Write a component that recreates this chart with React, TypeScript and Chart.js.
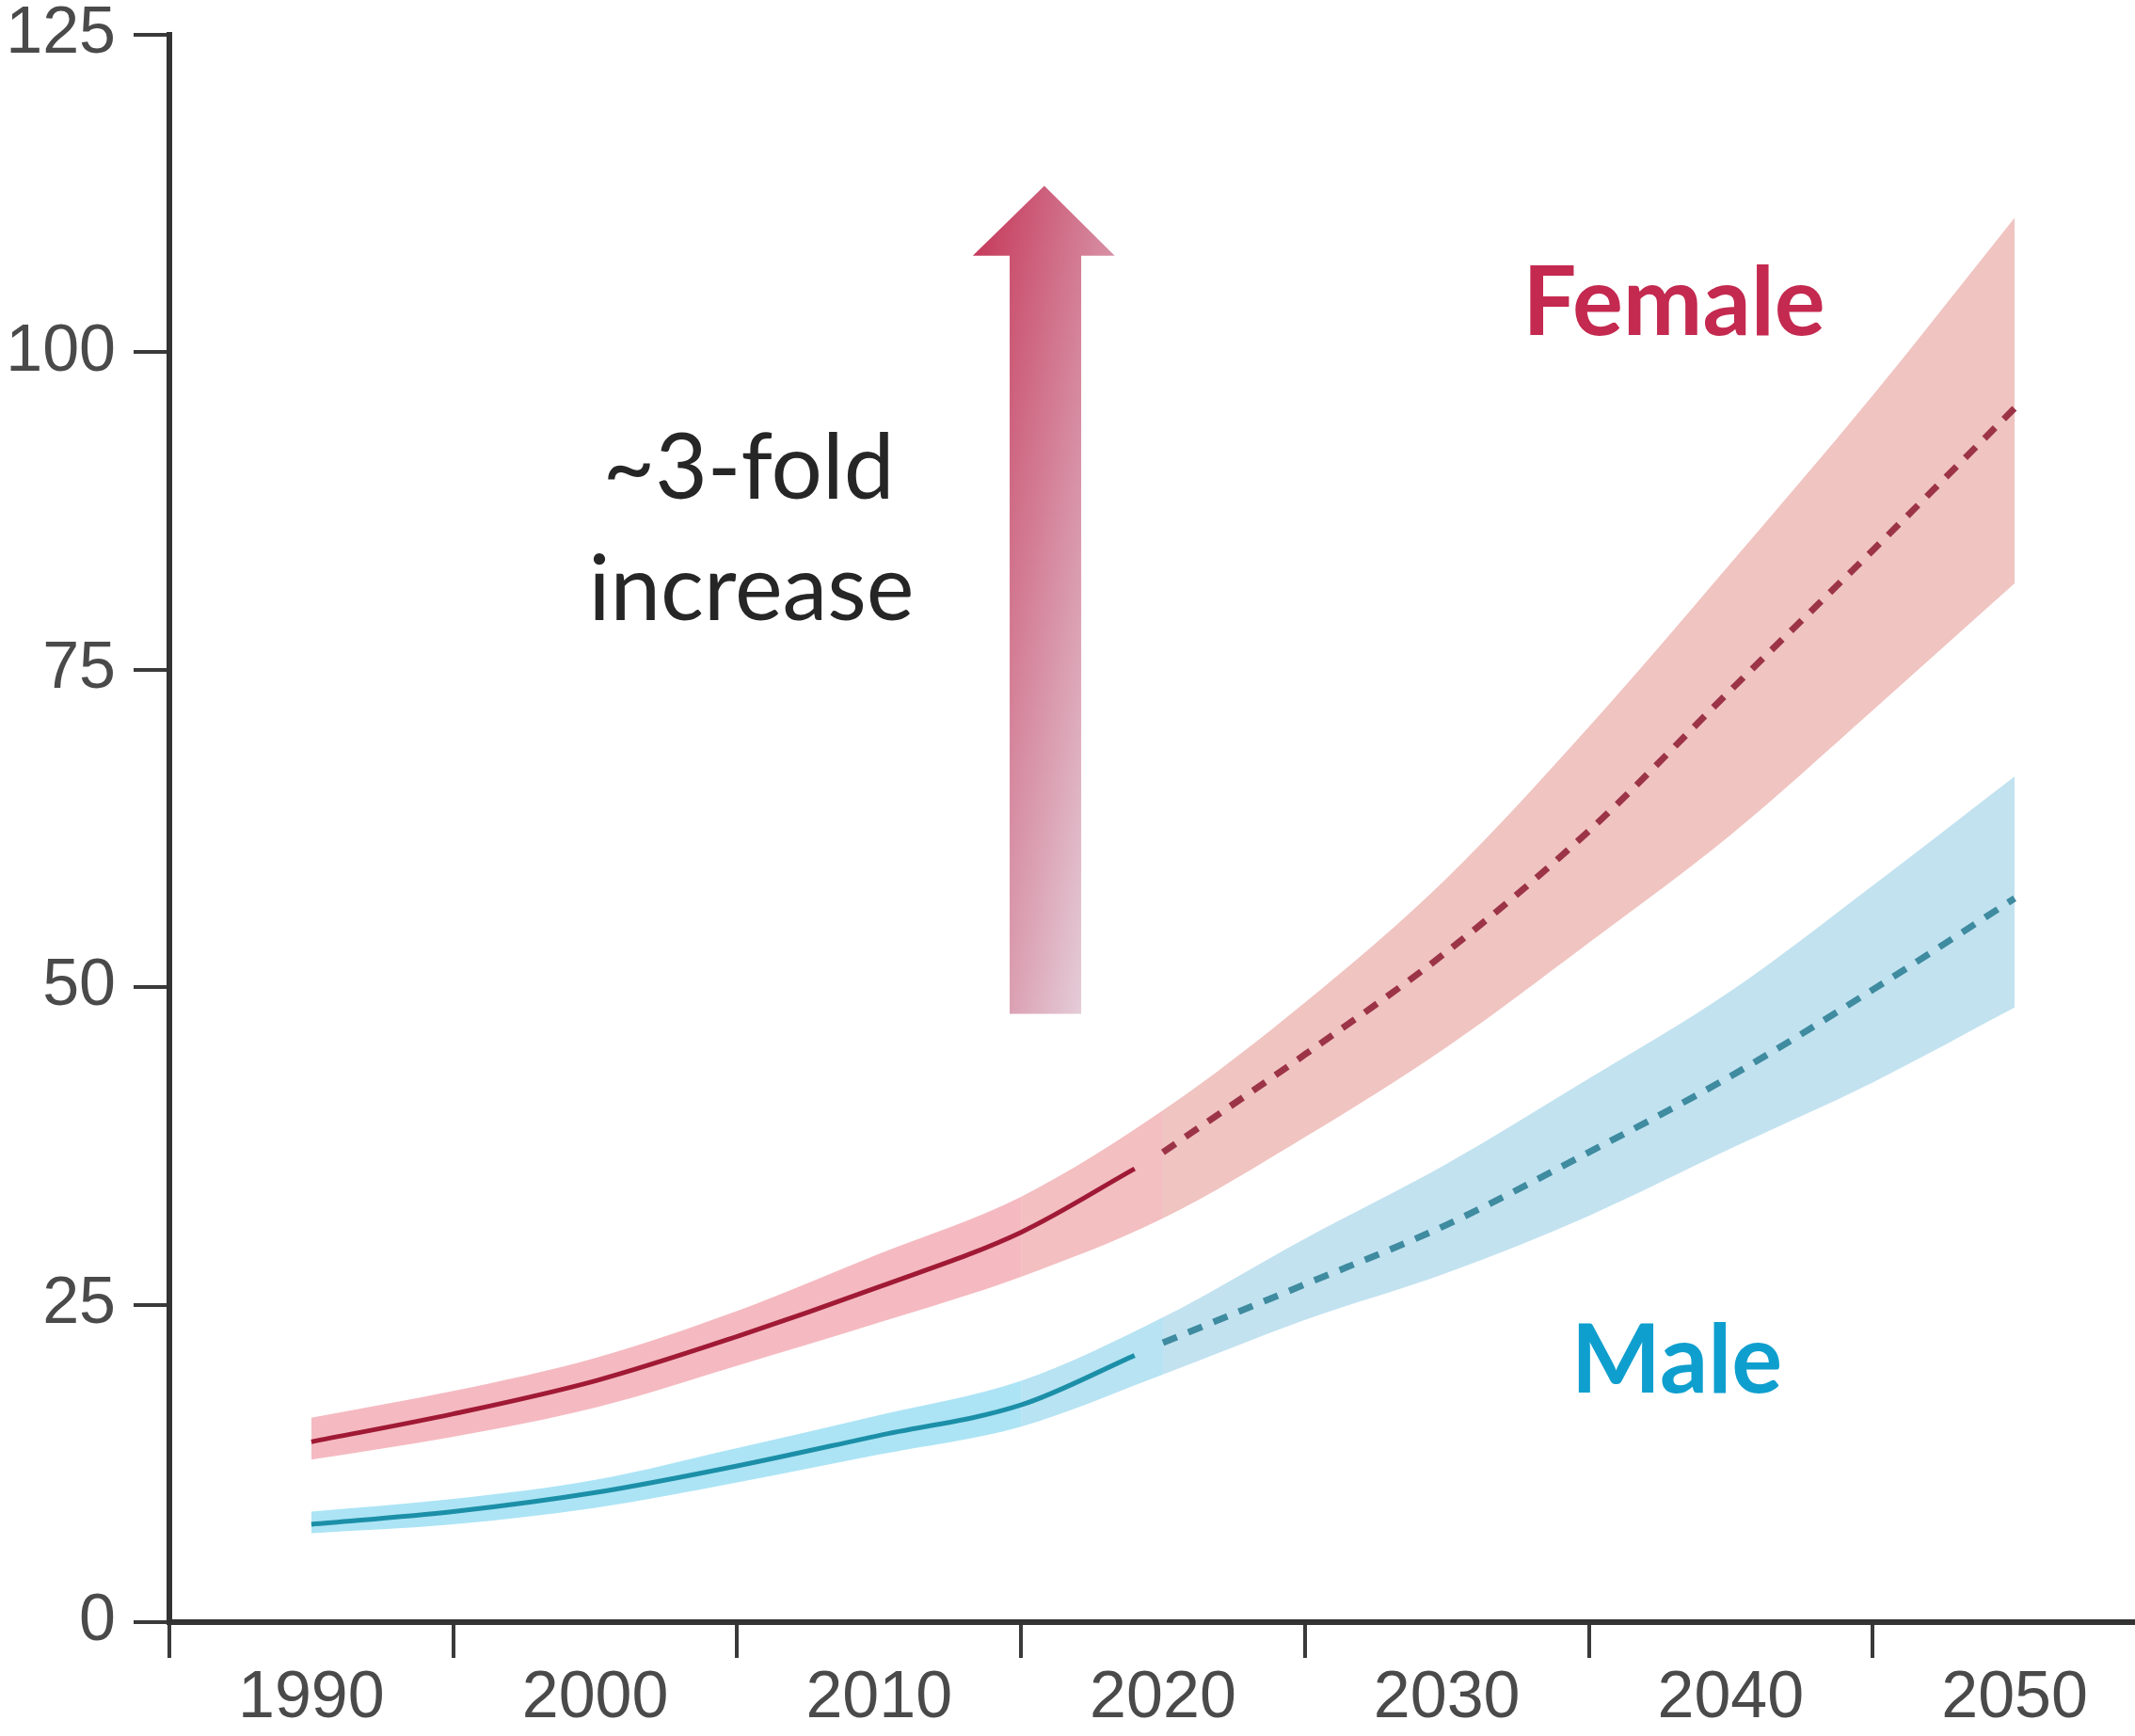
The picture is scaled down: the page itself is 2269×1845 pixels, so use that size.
import React, { useEffect, useRef } from 'react';
import { Chart, registerables } from 'chart.js';

Chart.register(...registerables);

// ---- data ----
const histYears = [1990, 1995, 2000, 2005, 2010, 2015, 2019];
const projYears = [2020, 2025, 2030, 2035, 2040, 2045, 2050];
const bandYears = [1990, 1995, 2000, 2005, 2010, 2015, 2020, 2025, 2030, 2035, 2040, 2045, 2050];

const femaleHist = [14.2, 16.4, 19.0, 22.5, 26.4, 30.7, 35.7];
const femaleProj = [37.0, 44.7, 52.8, 62.3, 73.4, 84.4, 95.6];
const femaleUpper = [16.1, 18.2, 20.8, 24.5, 29.0, 33.5, 40.3, 48.8, 58.6, 70.5, 83.4, 96.6, 110.6];
const femaleLower = [12.8, 14.6, 16.9, 20.2, 23.6, 27.2, 31.8, 38.2, 45.3, 53.5, 62.0, 71.8, 81.8];

const maleHist = [7.7, 8.7, 10.2, 12.3, 14.7, 17.1, 21.0];
const maleProj = [22.0, 26.6, 31.3, 37.0, 43.0, 49.8, 57.0];
const maleUpper = [8.7, 9.7, 11.2, 13.7, 16.3, 19.0, 24.0, 30.2, 36.1, 42.8, 49.7, 58.0, 66.6];
const maleLower = [7.0, 7.7, 9.0, 11.0, 13.2, 15.4, 19.5, 23.8, 27.5, 32.0, 37.3, 42.5, 48.4];

const xTickLabels = [1990, 2000, 2010, 2020, 2030, 2040, 2050];
const yTickValues = [0, 25, 50, 75, 100, 125];

const seriesLabels = { female: 'Female', male: 'Male' };
const noteLines = ['~3-fold', 'increase'];

const X_MIN = 1985;
const X_MAX = 2054.24;
const HIST_END = 2015;
const BLEND_END = 2020;

const toPts = (xs: number[], ys: number[]) => xs.map((x, i) => ({ x, y: ys[i] }));

const TICK_FONT = { family: "'Liberation Sans Narrow', 'Liberation Sans', sans-serif", size: 70, lineHeight: 1 };

const annotationPlugin = {
  id: 'annotations',
  afterDatasetsDraw(chart: any) {
    const { ctx, scales } = chart;
    const xs = scales.x;
    const ys = scales.y;
    const px = (v: number) => xs.getPixelForValue(v);
    const py = (v: number) => ys.getPixelForValue(v);
    ctx.save();

    // gradient arrow
    const headL = px(2013.3), headR = px(2018.3), tipX = px(2015.82);
    const shaftL = px(2014.6), shaftR = px(2017.12);
    const tipY = py(113.1), headY = py(107.6), botY = py(47.9);
    const W = headR - headL, H = botY - tipY;
    const k = 2 / (1 / (W * W) + 1 / (H * H));
    const grad = ctx.createLinearGradient(headL, tipY, headL + k / W, tipY + k / H);
    grad.addColorStop(0, '#c43355');
    grad.addColorStop(0.5, '#d68aa0');
    grad.addColorStop(1, '#e9e1e9');
    ctx.fillStyle = grad;
    ctx.beginPath();
    ctx.moveTo(shaftL, botY);
    ctx.lineTo(shaftL, headY);
    ctx.lineTo(headL, headY);
    ctx.lineTo(tipX, tipY);
    ctx.lineTo(headR, headY);
    ctx.lineTo(shaftR, headY);
    ctx.lineTo(shaftR, botY);
    ctx.closePath();
    ctx.fill();

    ctx.textAlign = 'center';
    ctx.textBaseline = 'alphabetic';
    ctx.fillStyle = '#262626';
    ctx.font = "400 96px Lato, 'Open Sans', sans-serif";
    ctx.fillText(noteLines[0], px(2005.4), py(88.5));
    ctx.fillText(noteLines[1], px(2005.5), py(78.9));

    ctx.font = "700 101px Lato, 'Open Sans', sans-serif";
    ctx.fillStyle = '#c4294f';
    ctx.fillText(seriesLabels.female, px(2038.0), py(101.4));
    ctx.fillStyle = '#0f9fce';
    ctx.fillText(seriesLabels.male, px(2038.1), py(18.1));
    ctx.restore();
  },
};

export default function App() {
  const canvasRef = useRef<HTMLCanvasElement | null>(null);

  useEffect(() => {
    if (!canvasRef.current) return;
    const segFill = (hist: string, mid: string, proj: string) => ({
      backgroundColor: (c: any) => {
        const x = c.p1.parsed.x;
        if (x <= HIST_END) return hist;
        if (x <= BLEND_END) return mid;
        return proj;
      },
    });
    const lineDs = (label: string, xs: number[], ys: number[], color: string, dashed: boolean) => ({
      label,
      data: toPts(xs, ys),
      borderColor: color,
      borderWidth: dashed ? 7 : 5,
      borderDash: dashed ? [16, 13] : [],
      pointRadius: 0,
      fill: false,
      cubicInterpolationMode: 'monotone',
      order: 0,
    });
    const bandDs = (label: string, ys: number[], fill: any, colors?: string[]) => ({
      label,
      data: toPts(bandYears, ys),
      borderColor: 'rgba(0,0,0,0)',
      borderWidth: 0,
      pointRadius: 0,
      backgroundColor: colors ? colors[2] : 'rgba(0,0,0,0)',
      segment: colors ? segFill(colors[0], colors[1], colors[2]) : undefined,
      fill,
      cubicInterpolationMode: 'monotone',
      order: 1,
    });
    const chart = new Chart(canvasRef.current, {
      type: 'line',
      data: {
        datasets: [
          lineDs('Female (observed)', histYears, femaleHist, '#a01a35', false),
          lineDs('Female (projected)', projYears, femaleProj, '#9c3447', true),
          lineDs('Male (observed)', histYears, maleHist, '#1c8fa8', false),
          lineDs('Male (projected)', projYears, maleProj, '#3f8ba0', true),
          bandDs('Female upper', femaleUpper, '+1', ['rgb(245,186,193)', 'rgb(243,191,193)', 'rgb(240,196,193)']),
          bandDs('Female lower', femaleLower, false),
          bandDs('Male upper', maleUpper, '+1', ['rgb(172,228,245)', 'rgb(183,227,243)', 'rgb(194,226,240)']),
          bandDs('Male lower', maleLower, false),
        ],
      } as any,
      options: {
        animation: false,
        responsive: true,
        maintainAspectRatio: false,
        layout: { padding: { top: 37, right: 0, left: 0, bottom: 0 } },
        plugins: {
          legend: { display: false },
          tooltip: { enabled: false },
          title: { display: false },
        },
        scales: {
          x: {
            type: 'linear',
            min: X_MIN,
            max: X_MAX,
            afterFit: (s: any) => {
              s.height = 121;
              s.paddingLeft = 0;
              s.paddingRight = 0;
            },
            border: { display: true, color: '#333', width: 6 },
            grid: {
              display: true,
              drawOnChartArea: false,
              drawTicks: true,
              tickLength: 38,
              lineWidth: 4,
              tickWidth: 4,
              tickColor: (c: any) => (c.tick && Math.abs(c.tick.value % 10) === 5 ? '#3a3a3a' : 'rgba(0,0,0,0)'),
            },
            ticks: {
              stepSize: 5,
              includeBounds: false,
              autoSkip: false,
              maxRotation: 0,
              minRotation: 0,
              padding: 9,
              color: '#4a4a4a',
              font: TICK_FONT,
              callback: (v: any) => (xTickLabels.includes(Number(v)) ? String(v) : ''),
            },
          },
          y: {
            type: 'linear',
            min: 0,
            max: 125,
            afterFit: (s: any) => {
              s.width = 180;
              s.paddingTop = 0;
              s.paddingBottom = 0;
            },
            afterBuildTicks: (s: any) => {
              s.ticks = yTickValues.map((v) => ({ value: v }));
            },
            border: { display: true, color: '#333', width: 6 },
            grid: {
              display: true,
              drawOnChartArea: false,
              drawTicks: true,
              tickLength: 38,
              lineWidth: 4,
              tickWidth: 4,
              tickColor: '#3a3a3a',
            },
            ticks: {
              padding: 19,
              color: '#4a4a4a',
              font: TICK_FONT,
              callback: (v: any) => String(v),
            },
          },
        },
      } as any,
      plugins: [annotationPlugin],
    });
    return () => chart.destroy();
  }, []);

  return (
    <div style={{ position: 'absolute', left: 0, top: 0, width: 2269, height: 1845, background: '#fff' }}>
      <canvas ref={canvasRef} />
    </div>
  );
}
